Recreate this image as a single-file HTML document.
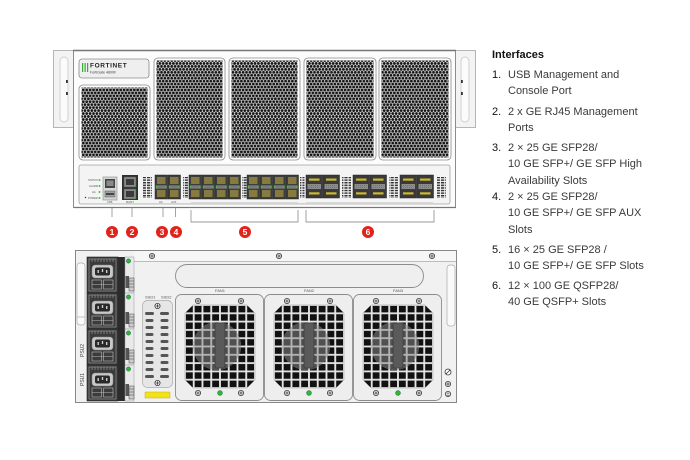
<!DOCTYPE html>
<html><head><meta charset="utf-8">
<style>
html,body{margin:0;padding:0}
body{width:690px;height:460px;background:#fff;position:relative;overflow:hidden;font-family:"Liberation Sans",sans-serif}
svg{position:absolute;left:0;top:0}
.h{position:absolute;left:492px;top:47px;font-size:11px;font-weight:bold;color:#111;line-height:16px;white-space:nowrap}
.it{position:absolute;left:492px;font-size:11px;line-height:16.4px;color:#3a3a3a;white-space:nowrap;padding-left:16px}
.it b{position:absolute;left:0;top:0;font-weight:normal;color:#111}
</style></head>
<body>
<svg width="690" height="460" viewBox="0 0 690 460" xmlns="http://www.w3.org/2000/svg">
<defs>
 <pattern id="hex" width="3.4" height="5.9" patternUnits="userSpaceOnUse">
  <circle cx="1.7" cy="1.5" r="1.45" fill="#161616"/>
  <circle cx="0" cy="4.45" r="1.45" fill="#161616"/>
  <circle cx="3.4" cy="4.45" r="1.45" fill="#161616"/>
 </pattern>
 <pattern id="slot" width="4.2" height="10" patternUnits="userSpaceOnUse"><rect x="0" y="0" width="3.2" height="3" fill="#333"/></pattern>
 <pattern id="vg" width="4.2" height="2.6" patternUnits="userSpaceOnUse"><rect width="3.2" height="1.5" fill="#333"/></pattern>
 <pattern id="sq" x="10" y="11" width="8.75" height="8.3" patternUnits="userSpaceOnUse"><rect x="0.9" y="0.9" width="6.9" height="6.5" fill="#111"/></pattern>
 <pattern id="sq2" x="10" y="11" width="8.75" height="8.3" patternUnits="userSpaceOnUse"><rect x="0.9" y="0.9" width="6.9" height="6.5" fill="#505050"/></pattern>
 <clipPath id="oct"><polygon points="18,11 72,11 80,19 80,86 72,94 18,94 10,86 10,19"/></clipPath>
 <clipPath id="hub"><circle cx="42" cy="52" r="24"/></clipPath>
 <g id="scr"><circle r="2.6" fill="#fff" stroke="#333" stroke-width="0.8"/><path d="M-1.8 0H1.8M0 -1.8V1.8" stroke="#333" stroke-width="0.8"/></g>
 <g id="sfp">
  <rect x="0" y="0" width="12.5" height="24" fill="#3d3d3d" stroke="#222" stroke-width="0.5"/>
  <rect x="2" y="2" width="8.5" height="7" fill="#857a40"/>
  <rect x="2" y="15" width="8.5" height="7" fill="#857a40"/>
  <rect x="0.8" y="10.3" width="10.9" height="3.4" fill="#7a7a7a"/>
  <circle cx="1.6" cy="12" r="0.9" fill="#3c3"/>
  <circle cx="10.9" cy="12" r="0.9" fill="#3c3"/>
 </g>
 <g id="qsfp">
  <rect x="0" y="0" width="16.5" height="23" fill="#3a3a3a" stroke="#222" stroke-width="0.5"/>
  <rect x="3" y="3.5" width="10.5" height="2.2" fill="#cbbb2c"/>
  <rect x="3" y="17.3" width="10.5" height="2.2" fill="#cbbb2c"/>
  <rect x="1.5" y="9" width="13.5" height="5" fill="#8c8c8c"/>
  <path d="M3 10.5H13.5M3 12.5H13.5" stroke="#555" stroke-width="0.5" stroke-dasharray="1 1"/>
 </g>
 <g id="psu">
  <rect x="0" y="0" width="31" height="36" fill="#3b3b3b" stroke="#222" stroke-width="0.6"/>
  <rect x="2" y="2" width="27" height="32" fill="none" stroke="#b5b5b5" stroke-width="0.5"/>
  <path d="M5 2V5M8 2V5M11 2V5M14 2V5M17 2V5M20 2V5M23 2V5M26 2V5" stroke="#bbb" stroke-width="0.5"/>
  <rect x="5" y="8" width="21" height="13" rx="3" fill="#c8c8c8" stroke="#888" stroke-width="0.5"/>
  <rect x="8" y="10.5" width="15" height="8" rx="2" fill="#2a2a2a"/>
  <rect x="10.5" y="13" width="1.4" height="3" fill="#ccc"/><rect x="14.8" y="12" width="1.4" height="3" fill="#ccc"/><rect x="19" y="13" width="1.4" height="3" fill="#ccc"/>
  <rect x="5" y="23" width="9.5" height="9" fill="none" stroke="#bbb" stroke-width="0.6"/>
  <rect x="16.5" y="23" width="9.5" height="9" fill="none" stroke="#bbb" stroke-width="0.6"/>
  <path d="M5 27.5H26" stroke="#bbb" stroke-width="0.5"/>
  <rect x="31" y="0" width="7" height="36" fill="#2b2b2b"/>
  <rect x="38" y="0" width="9" height="36" fill="#e9e9e9" stroke="#999" stroke-width="0.5"/>
  <circle cx="41.5" cy="4" r="2.2" fill="#2eb82e" stroke="#155" stroke-width="0.4"/>
  <rect x="38.5" y="19" width="3.5" height="12" fill="#555"/>
  <rect x="42" y="21" width="5" height="13" fill="#ccc" stroke="#444" stroke-width="0.5"/>
  <path d="M42 24H47M42 27H47M42 30H47" stroke="#444" stroke-width="0.5"/>
 </g>
 <g id="fan">
  <rect x="0.5" y="0.5" width="88" height="106" rx="6" fill="#eeeeee" stroke="#8c8c8c" stroke-width="0.9"/>
  <g clip-path="url(#oct)">
   <rect x="10" y="11" width="70" height="83" fill="#e6e6e6"/>
   <rect x="10" y="11" width="70" height="83" fill="url(#sq)"/>
   <g clip-path="url(#hub)"><rect x="10" y="11" width="70" height="83" fill="#b5b5b5"/><rect x="10" y="11" width="70" height="83" fill="url(#sq2)"/></g>
  </g>
  <polygon points="18,11 72,11 80,19 80,86 72,94 18,94 10,86 10,19" fill="none" stroke="#999" stroke-width="0.5"/>
  <rect x="40" y="29" width="10" height="45" rx="2" fill="#5a5a5a" stroke="#333" stroke-width="0.6"/>
  <use href="#scr" x="23" y="7"/><use href="#scr" x="66" y="7"/>
  <use href="#scr" x="23" y="99"/><use href="#scr" x="66" y="99"/>
  <circle cx="45" cy="99" r="2.5" fill="#2eb82e" stroke="#155" stroke-width="0.4"/>
 </g>
</defs>

<!-- FRONT -->
<rect x="53.5" y="50.5" width="20" height="77" fill="#f3f3f3" stroke="#b5b5b5"/>
<rect x="60" y="57" width="8" height="65" rx="4" fill="#fbfbfb" stroke="#d0d0d0"/>
<rect x="66" y="80" width="1.8" height="3" fill="#333"/><rect x="66" y="92" width="1.8" height="3" fill="#333"/>
<rect x="455.5" y="50.5" width="20" height="77" fill="#f3f3f3" stroke="#b5b5b5"/>
<rect x="461" y="57" width="8" height="65" rx="4" fill="#fbfbfb" stroke="#d0d0d0"/>
<rect x="461" y="80" width="1.8" height="3" fill="#333"/><rect x="461" y="92" width="1.8" height="3" fill="#333"/>
<rect x="73.5" y="50.5" width="382" height="157" fill="#fcfcfc" stroke="#8c8c8c"/>
<path d="M73 50.5H456" stroke="#777" stroke-width="1.6"/>
<path d="M74 207.5H456" stroke="#777" stroke-width="1.2"/>

<rect x="79" y="59" width="70" height="19" rx="3" fill="#efefef" stroke="#8a8a8a" stroke-width="0.8"/>
<rect x="82" y="63" width="1.2" height="9" fill="#3aa83a"/><rect x="84.5" y="63" width="1.2" height="9" fill="#3aa83a"/><rect x="87" y="63" width="1.2" height="9" fill="#3aa83a"/>
<text x="90" y="67.5" font-size="6.5" font-weight="bold" fill="#222" letter-spacing="0.6" font-family="Liberation Sans">FORTINET</text>
<text x="90" y="73.5" font-size="3.6" fill="#444" font-family="Liberation Sans">FortiGate 4800F</text>

<rect x="79" y="85" width="71" height="75" rx="4" fill="#fff" stroke="#8a8a8a" stroke-width="0.8"/>
<rect x="81.5" y="87.5" width="66" height="70" fill="url(#hex)"/>
<rect x="154" y="58" width="71" height="102" rx="4" fill="#fff" stroke="#8a8a8a" stroke-width="0.8"/>
<rect x="156.5" y="60.5" width="66" height="97" fill="url(#hex)"/>
<rect x="229" y="58" width="71" height="102" rx="4" fill="#fff" stroke="#8a8a8a" stroke-width="0.8"/>
<rect x="231.5" y="60.5" width="66" height="97" fill="url(#hex)"/>
<rect x="304" y="58" width="72" height="102" rx="4" fill="#fff" stroke="#8a8a8a" stroke-width="0.8"/>
<rect x="306.5" y="60.5" width="67" height="97" fill="url(#hex)"/>
<rect x="379" y="58" width="72" height="102" rx="4" fill="#fff" stroke="#8a8a8a" stroke-width="0.8"/>
<rect x="381.5" y="60.5" width="67" height="97" fill="url(#hex)"/>

<!-- port panel -->
<rect x="79" y="165" width="371" height="39" rx="2" fill="#f4f4f4" stroke="#a0a0a0" stroke-width="0.8"/>
<rect x="83" y="167" width="364" height="3" fill="url(#slot)"/>
<g font-family="Liberation Sans" font-size="2.6" fill="#555">
 <text x="88" y="181">STATUS</text><text x="89" y="187">ALARM</text><text x="92" y="193">HA</text><text x="88" y="199">POWER</text>
 <text x="107" y="203">USB</text><text x="126" y="203">MGMT</text><text x="159" y="203">HA</text><text x="171" y="203">AUX</text>
</g>
<circle cx="99.5" cy="180" r="1" fill="#3c3"/><circle cx="99.5" cy="186" r="1" fill="#3c3"/><circle cx="99.5" cy="192" r="1" fill="#3c3"/><circle cx="99.5" cy="198" r="1" fill="#3c3"/>
<circle cx="85.5" cy="197.5" r="0.7" fill="#333"/>
<rect x="103" y="177" width="14" height="23" fill="#d6d6d6" stroke="#888" stroke-width="0.6"/>
<rect x="105" y="179" width="10" height="9" fill="#444"/><rect x="106.5" y="180.5" width="7" height="5.5" fill="#8a8a8a"/><rect x="108" y="186" width="4" height="2" fill="#444"/>
<rect x="105" y="191" width="10" height="6" fill="#a0a0a0" stroke="#555" stroke-width="0.5"/><rect x="106" y="193" width="8" height="2" fill="#444"/>
<rect x="122" y="175" width="16" height="25" fill="#2e2e2e"/>
<rect x="124" y="177" width="12" height="10" fill="#8a8a8a" stroke="#555" stroke-width="0.5"/><rect x="126" y="179" width="8" height="6" fill="#3a3a3a"/>
<rect x="124" y="189" width="12" height="10" fill="#8a8a8a" stroke="#555" stroke-width="0.5"/><rect x="126" y="191" width="8" height="6" fill="#3a3a3a"/>
<circle cx="125.3" cy="186" r="0.8" fill="#3c3"/><circle cx="134.7" cy="186" r="0.8" fill="#3c3"/><circle cx="125.3" cy="198" r="0.8" fill="#3c3"/><circle cx="134.7" cy="198" r="0.8" fill="#3c3"/>

<rect x="143" y="177" width="9" height="21" fill="url(#vg)"/>
<rect x="183" y="177" width="5" height="21" fill="url(#vg)"/>
<rect x="242" y="177" width="4.5" height="21" fill="url(#vg)"/>
<rect x="300" y="177" width="4.5" height="21" fill="url(#vg)"/>
<rect x="342" y="177" width="9" height="21" fill="url(#vg)"/>
<rect x="389" y="177" width="9" height="21" fill="url(#vg)"/>
<rect x="437" y="177" width="9" height="21" fill="url(#vg)"/>

<use href="#sfp" x="155" y="175"/><use href="#sfp" x="168" y="175"/>
<use href="#sfp" x="189" y="175"/><use href="#sfp" x="202" y="175"/><use href="#sfp" x="215" y="175"/><use href="#sfp" x="228" y="175"/>
<use href="#sfp" x="247" y="175"/><use href="#sfp" x="260" y="175"/><use href="#sfp" x="273" y="175"/><use href="#sfp" x="286" y="175"/>
<use href="#qsfp" x="306" y="175"/><use href="#qsfp" x="323" y="175"/>
<use href="#qsfp" x="353" y="175"/><use href="#qsfp" x="370" y="175"/>
<use href="#qsfp" x="400" y="175"/><use href="#qsfp" x="417" y="175"/>
<path d="M191 202.5H298M306 202.5H433" stroke="#bbb" stroke-width="0.5"/>

<!-- callouts -->
<g stroke="#9a9a9a" stroke-width="0.9" fill="none">
 <path d="M112 208V217M132 208V217M163 208V217M175.5 208V217"/>
 <path d="M191 210V222H298V210"/>
 <path d="M306 210V222H434V210"/>
</g>
<g fill="#e0231b">
 <circle cx="112" cy="232" r="6"/><circle cx="132" cy="232" r="6"/><circle cx="162" cy="232" r="6"/><circle cx="176" cy="232" r="6"/><circle cx="245" cy="232" r="6"/><circle cx="368" cy="232" r="6"/>
</g>
<g fill="#fff" font-family="Liberation Sans" font-weight="bold" font-size="8.5" text-anchor="middle">
 <text x="112" y="235.2">1</text><text x="132" y="235.2">2</text><text x="162" y="235.2">3</text><text x="176" y="235.2">4</text><text x="245" y="235.2">5</text><text x="368" y="235.2">6</text>
</g>

<!-- BACK -->
<rect x="75.5" y="250.5" width="381" height="152" fill="#f1f1f1" stroke="#888"/>
<rect x="134" y="251" width="322" height="10" fill="#f6f6f6"/>
<path d="M134 261.5H456" stroke="#aaa" stroke-width="0.8"/>
<use href="#scr" x="152" y="256"/><use href="#scr" x="279" y="256"/><use href="#scr" x="432" y="256"/>
<rect x="77" y="263" width="8" height="62" rx="3" fill="#fafafa" stroke="#aaa" stroke-width="0.7"/>
<path d="M77 317H85" stroke="#aaa" stroke-width="0.7"/>
<rect x="447" y="265" width="8" height="61" rx="3" fill="#fafafa" stroke="#aaa" stroke-width="0.7"/>
<text transform="translate(84,357) rotate(-90)" font-family="Liberation Sans" font-size="5" fill="#444">PSU2</text>
<text transform="translate(84,386) rotate(-90)" font-family="Liberation Sans" font-size="5" fill="#444">PSU1</text>
<use href="#psu" x="87" y="257"/><use href="#psu" x="87" y="293"/><use href="#psu" x="87" y="329"/><use href="#psu" x="87" y="365"/>

<rect x="175.5" y="264.5" width="248" height="23" rx="11.5" fill="#efefef" stroke="#8c8c8c" stroke-width="0.9"/>

<text x="145" y="298.5" font-family="Liberation Sans" font-size="4" fill="#555">SSD1</text>
<text x="161" y="298.5" font-family="Liberation Sans" font-size="4" fill="#555">SSD2</text>
<rect x="142.5" y="300.5" width="30" height="87" rx="5" fill="#e6e6e6" stroke="#aaa" stroke-width="0.7"/>
<use href="#scr" x="157.5" y="306"/><use href="#scr" x="157.5" y="383"/>
<g fill="#555">
 <rect x="145" y="312" width="9" height="3" rx="1.5"/><rect x="160" y="312" width="9" height="3" rx="1.5"/>
 <rect x="145.5" y="319" width="8" height="3" rx="1.5"/><rect x="160.5" y="319" width="8" height="3" rx="1.5"/>
 <rect x="145.5" y="326" width="8" height="3" rx="1.5"/><rect x="160.5" y="326" width="8" height="3" rx="1.5"/>
 <rect x="145.5" y="333" width="8" height="3" rx="1.5"/><rect x="160.5" y="333" width="8" height="3" rx="1.5"/>
 <rect x="145.5" y="340" width="8" height="3" rx="1.5"/><rect x="160.5" y="340" width="8" height="3" rx="1.5"/>
 <rect x="145.5" y="347" width="8" height="3" rx="1.5"/><rect x="160.5" y="347" width="8" height="3" rx="1.5"/>
 <rect x="145.5" y="354" width="8" height="3" rx="1.5"/><rect x="160.5" y="354" width="8" height="3" rx="1.5"/>
 <rect x="145.5" y="361" width="8" height="3" rx="1.5"/><rect x="160.5" y="361" width="8" height="3" rx="1.5"/>
 <rect x="145.5" y="368" width="8" height="3" rx="1.5"/><rect x="160.5" y="368" width="8" height="3" rx="1.5"/>
 <rect x="145" y="375" width="9" height="3" rx="1.5"/><rect x="160" y="375" width="9" height="3" rx="1.5"/>
</g>
<rect x="145" y="392" width="25" height="6" fill="#f2e21a" stroke="#b8a800" stroke-width="0.4"/>

<g font-family="Liberation Sans" font-size="4" fill="#555" text-anchor="middle">
 <text x="220" y="292">FAN1</text><text x="309" y="292">FAN2</text><text x="398" y="292">FAN3</text>
</g>
<use href="#fan" x="175" y="294"/>
<use href="#fan" x="264" y="294"/>
<use href="#fan" x="353" y="294"/>

<circle cx="448" cy="372" r="3" fill="#fff" stroke="#333" stroke-width="0.8"/><path d="M446 374L450 370" stroke="#333" stroke-width="0.8"/>
<use href="#scr" x="448" y="384"/>
<circle cx="448" cy="394" r="2.6" fill="#fff" stroke="#333" stroke-width="0.8"/><path d="M446.3 394H449.7M448 392V394M446.8 395.5H449.2" stroke="#333" stroke-width="0.6"/>
</svg>

<div class="h">Interfaces</div>
<div class="it" style="top:66.8px"><b>1.</b>USB Management and<br>Console Port</div>
<div class="it" style="top:103.8px"><b>2.</b>2 x GE RJ45 Management<br>Ports</div>
<div class="it" style="top:139.8px"><b>3.</b>2 × 25 GE SFP28/<br>10 GE SFP+/ GE SFP High<br>Availability Slots</div>
<div class="it" style="top:188.8px"><b>4.</b>2 × 25 GE SFP28/<br>10 GE SFP+/ GE SFP AUX<br>Slots</div>
<div class="it" style="top:241.8px"><b>5.</b>16 × 25 GE SFP28 /<br>10 GE SFP+/ GE SFP Slots</div>
<div class="it" style="top:277.8px"><b>6.</b>12 × 100 GE QSFP28/<br>40 GE QSFP+ Slots</div>
</body></html>
